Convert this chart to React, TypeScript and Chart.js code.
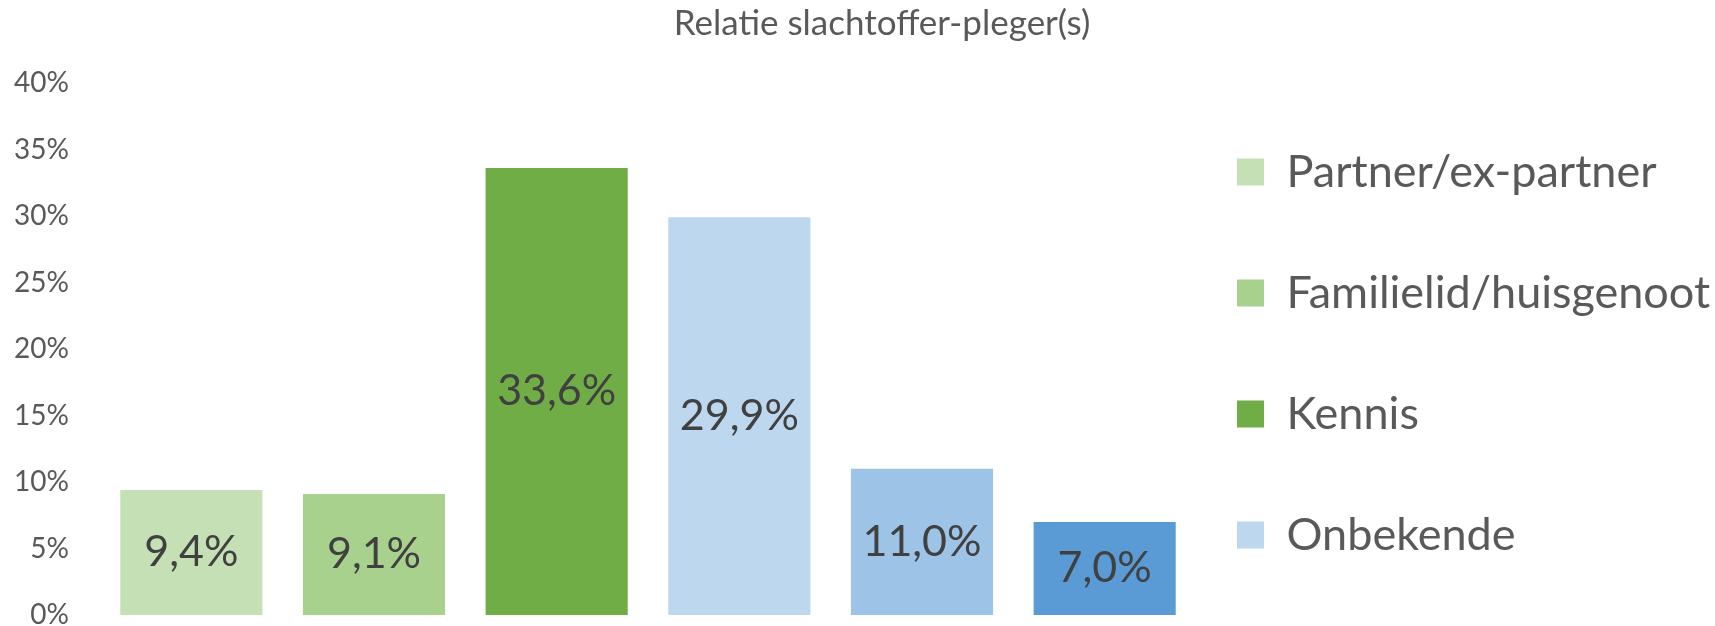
import React, { useEffect, useRef } from "react";
import { Chart, registerables } from "chart.js";

Chart.register(...registerables);

const chartTitle = "Relatie slachtoffer-pleger(s)";
const categories = [
  "Partner/ex-partner",
  "Familielid/huisgenoot",
  "Kennis",
  "Onbekende",
  "Categorie 5",
  "Categorie 6",
];
const legendLabels = ["Partner/ex-partner", "Familielid/huisgenoot", "Kennis", "Onbekende"];
const values = [9.4, 9.1, 33.6, 29.9, 11.0, 7.0];
const colors = ["#C5E0B4", "#A9D18E", "#70AD47", "#BDD7EE", "#9DC3E6", "#5B9BD5"];
const yTickLabels = ["0%", "5%", "10%", "15%", "20%", "25%", "30%", "35%", "40%"];
const yMin = 0;
const yMax = 40;
const yStep = 5;

const TICK_FONT = 28;
const fmt = (v: number) => v.toFixed(1).replace(".", ",") + "%";

function widestTick(): number {
  const c = document.createElement("canvas").getContext("2d");
  if (!c) return 50;
  c.font = `normal normal ${TICK_FONT}px Lato`;
  return Math.max(...yTickLabels.map((t) => c.measureText(t).width));
}

const valueLabels = {
  id: "valueLabels",
  afterDatasetsDraw(chart: any) {
    const { ctx } = chart;
    const meta = chart.getDatasetMeta(0);
    ctx.save();
    ctx.font = "43px Lato";
    ctx.fillStyle = "#404040";
    ctx.textAlign = "center";
    ctx.textBaseline = "middle";
    meta.data.forEach((el: any, i: number) => {
      const v = chart.data.datasets[0].data[i];
      const { x, y, base } = el.getProps(["x", "y", "base"], true);
      ctx.fillText(fmt(v), x, (y + base) / 2);
    });
    ctx.restore();
  },
};

export default function App() {
  const ref = useRef<HTMLCanvasElement | null>(null);
  useEffect(() => {
    if (!ref.current) return;
    Chart.defaults.font.family = "Lato";
    const widest = widestTick();
    const chart = new Chart(ref.current, {
      type: "bar",
      data: {
        labels: categories,
        datasets: [
          {
            label: chartTitle,
            data: values,
            backgroundColor: colors,
            borderWidth: 0,
            categoryPercentage: 1,
            barPercentage: 0.778,
          },
        ],
      },
      options: {
        responsive: false,
        animation: false,
        layout: { padding: { left: 49, right: 0, top: 0, bottom: 11 } },
        scales: {
          x: { display: false },
          y: {
            min: yMin,
            max: yMax,
            ticks: {
              stepSize: yStep,
              mirror: true,
              crossAlign: "far",
              padding: -31 - widest,
              color: "#595959",
              font: { family: "Lato", size: TICK_FONT },
              callback: (v: any) => v + "%",
            },
            grid: { display: false, drawTicks: false },
            border: { display: false },
            afterFit: (s: any) => {
              s.width = 51;
              s.paddingTop = 0;
              s.paddingBottom = 0;
            },
          },
        },
        plugins: {
          tooltip: { enabled: false },
          title: {
            display: true,
            text: chartTitle,
            color: "#595959",
            font: { family: "Lato", size: 35, weight: "normal", lineHeight: 1.2 },
            padding: { top: 3, bottom: 38 },
          },
          legend: {
            display: true,
            position: "right",
            align: "start",
            maxWidth: 519,
            title: {
              display: true,
              text: " ",
              font: { size: 10, lineHeight: 1 },
              padding: { top: 98.5, bottom: 0 },
            },
            labels: {
              boxWidth: 27,
              boxHeight: 27,
              padding: 41,
              color: "#595959",
              font: { family: "Lato", size: 45, lineHeight: "80px" },
              generateLabels: () =>
                legendLabels.map((t, i) => ({
                  text: i < legendLabels.length - 1 ? [t] : t,
                  fillStyle: colors[i],
                  strokeStyle: colors[i],
                  lineWidth: 0,
                  hidden: false,
                  datasetIndex: 0,
                  index: i,
                  fontColor: "#595959",
                })) as any,
            },
          },
        },
      },
      plugins: [valueLabels],
    } as any);
    return () => chart.destroy();
  }, []);
  return (
    <div style={{ position: "absolute", left: 0, top: 0, width: 1715, height: 626 }}>
      <canvas ref={ref} width={1715} height={626} />
    </div>
  );
}
